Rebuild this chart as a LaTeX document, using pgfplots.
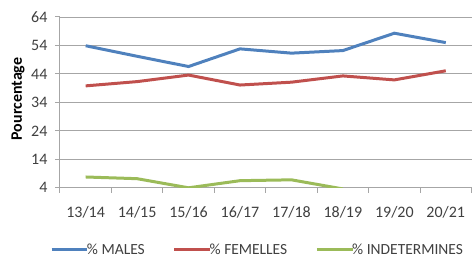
\documentclass[border=0pt]{standalone}
\usepackage{fontspec}
\setmainfont{Carlito}
\usepackage{pgfplots}
\pgfplotsset{compat=1.18}
\definecolor{cblue}{HTML}{4F81BD}
\definecolor{cred}{HTML}{C0504D}
\definecolor{cgreen}{HTML}{9BBB59}
\definecolor{cgrid}{HTML}{A6A6A6}
\definecolor{ctext}{HTML}{404040}
\begin{document}
\begin{tikzpicture}
\begin{axis}[
  name=ax,
  scale only axis,
  width=412pt, height=171pt,
  xmin=-0.5, xmax=7.5,
  ymin=4, ymax=64,
  ytick={4,14,24,34,44,54,64},
  xtick={0,...,7},
  xticklabels={13/14,14/15,15/16,16/17,17/18,18/19,19/20,20/21},
  minor xtick={-0.5,0.5,...,7.5},
  axis x line*=bottom,
  axis y line*=left,
  axis line style={cgrid, line width=1pt, -},
  ymajorgrids,
  major grid style={cgrid, line width=0.9pt},
  major x tick style={draw=none},
  minor x tick style={cgrid, line width=1pt},
  major y tick style={cgrid, line width=1pt},
  xtick align=outside, ytick align=outside,
  major tick length=5pt, minor tick length=5pt,
  tick label style={font=\fontsize{16}{18}\selectfont, text=ctext},
  /pgf/number format/assume math mode=true,
  xticklabel style={yshift=-10pt},
  yticklabel style={xshift=-4pt},
  ylabel={\textbf{Pourcentage}},
  ylabel style={font=\fontsize{16}{18}\selectfont, at={(axis description cs:-0.102,0.52)}, anchor=center},
  legend style={draw=none, fill=none, at={(0.48,-0.363)}, anchor=center,
    legend columns=3, font=\fontsize{15.5}{17}\selectfont, text=ctext,
    /tikz/every even column/.append style={column sep=26pt},
    inner sep=0pt},
  legend image code/.code={\draw[#1, line width=3pt] (0pt,0pt) -- (36pt,0pt);},
  legend cell align=left,
]
\addplot[cblue, line width=3pt] coordinates {(0,53.9) (1,50.2) (2,46.6) (3,52.8) (4,51.3) (5,52.2) (6,58.3) (7,55.0)};
\addlegendentry{\hspace{-4pt}\% MALES}
\addplot[cred, line width=3pt] coordinates {(0,39.8) (1,41.3) (2,43.6) (3,40.1) (4,41.1) (5,43.3) (6,41.9) (7,45.1)};
\addlegendentry{\hspace{-4pt}\% FEMELLES}
\addplot[cgreen, line width=3pt] coordinates {(0,7.8) (1,7.2) (2,4.0) (3,6.5) (4,6.8) (5,3.6)};
\addlegendentry{\hspace{-4pt}\% INDETERMINES}
\end{axis}
\path ([shift={(-60pt,-71pt)}]ax.south west) rectangle ([shift={(0pt,17pt)}]ax.north east);
\end{tikzpicture}
\end{document}
